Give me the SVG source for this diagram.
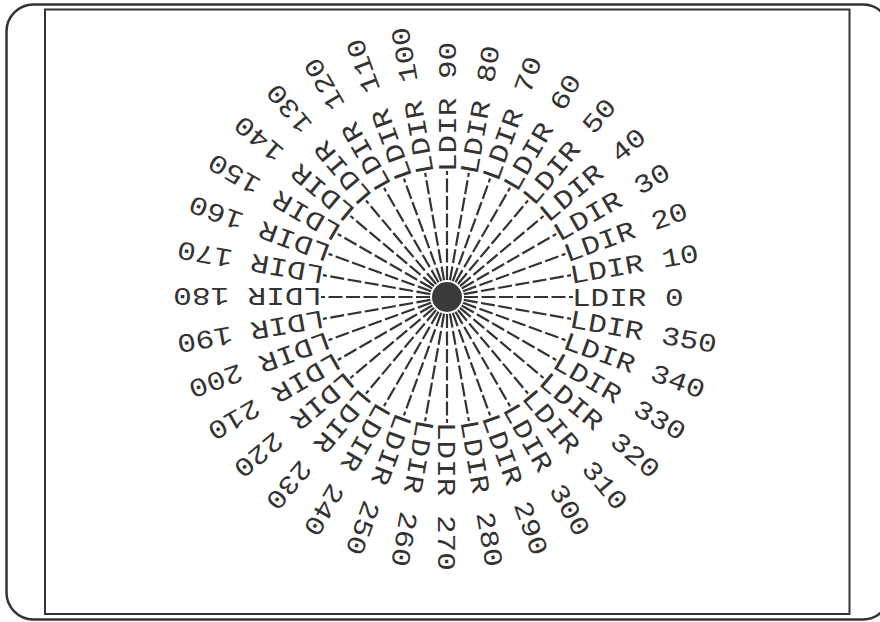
<svg xmlns="http://www.w3.org/2000/svg" width="880" height="622" viewBox="0 0 880 622">
<style>
.frame{fill:none;stroke:#333;}
.ray{stroke:#333;stroke-width:2.2;stroke-dasharray:14 3.5;fill:none;}
.lbl{font-family:"Liberation Mono","DejaVu Sans Mono",monospace;font-size:31px;fill:#333;}
</style>
<rect width="880" height="622" fill="#fff"/>
<g id="frame">
<rect class="frame" x="6.5" y="4.5" width="883.5" height="615" rx="27" stroke-width="2.5"/>
<rect class="frame" x="45" y="9.5" width="804.5" height="604.5" stroke-width="2"/>
</g>
<g id="center"><circle cx="447" cy="297" r="15" fill="#3a3a3a"/></g>
<g id="connectors" transform="translate(447 297)">
<line class="ray" x1="17" y1="0" x2="126" y2="0" transform="rotate(0)"/>
<line class="ray" x1="17" y1="0" x2="126" y2="0" transform="rotate(-10)"/>
<line class="ray" x1="17" y1="0" x2="126" y2="0" transform="rotate(-20)"/>
<line class="ray" x1="17" y1="0" x2="126" y2="0" transform="rotate(-30)"/>
<line class="ray" x1="17" y1="0" x2="126" y2="0" transform="rotate(-40)"/>
<line class="ray" x1="17" y1="0" x2="126" y2="0" transform="rotate(-50)"/>
<line class="ray" x1="17" y1="0" x2="126" y2="0" transform="rotate(-60)"/>
<line class="ray" x1="17" y1="0" x2="126" y2="0" transform="rotate(-70)"/>
<line class="ray" x1="17" y1="0" x2="126" y2="0" transform="rotate(-80)"/>
<line class="ray" x1="17" y1="0" x2="126" y2="0" transform="rotate(-90)"/>
<line class="ray" x1="17" y1="0" x2="126" y2="0" transform="rotate(-100)"/>
<line class="ray" x1="17" y1="0" x2="126" y2="0" transform="rotate(-110)"/>
<line class="ray" x1="17" y1="0" x2="126" y2="0" transform="rotate(-120)"/>
<line class="ray" x1="17" y1="0" x2="126" y2="0" transform="rotate(-130)"/>
<line class="ray" x1="17" y1="0" x2="126" y2="0" transform="rotate(-140)"/>
<line class="ray" x1="17" y1="0" x2="126" y2="0" transform="rotate(-150)"/>
<line class="ray" x1="17" y1="0" x2="126" y2="0" transform="rotate(-160)"/>
<line class="ray" x1="17" y1="0" x2="126" y2="0" transform="rotate(-170)"/>
<line class="ray" x1="17" y1="0" x2="126" y2="0" transform="rotate(-180)"/>
<line class="ray" x1="17" y1="0" x2="126" y2="0" transform="rotate(-190)"/>
<line class="ray" x1="17" y1="0" x2="126" y2="0" transform="rotate(-200)"/>
<line class="ray" x1="17" y1="0" x2="126" y2="0" transform="rotate(-210)"/>
<line class="ray" x1="17" y1="0" x2="126" y2="0" transform="rotate(-220)"/>
<line class="ray" x1="17" y1="0" x2="126" y2="0" transform="rotate(-230)"/>
<line class="ray" x1="17" y1="0" x2="126" y2="0" transform="rotate(-240)"/>
<line class="ray" x1="17" y1="0" x2="126" y2="0" transform="rotate(-250)"/>
<line class="ray" x1="17" y1="0" x2="126" y2="0" transform="rotate(-260)"/>
<line class="ray" x1="17" y1="0" x2="126" y2="0" transform="rotate(-270)"/>
<line class="ray" x1="17" y1="0" x2="126" y2="0" transform="rotate(-280)"/>
<line class="ray" x1="17" y1="0" x2="126" y2="0" transform="rotate(-290)"/>
<line class="ray" x1="17" y1="0" x2="126" y2="0" transform="rotate(-300)"/>
<line class="ray" x1="17" y1="0" x2="126" y2="0" transform="rotate(-310)"/>
<line class="ray" x1="17" y1="0" x2="126" y2="0" transform="rotate(-320)"/>
<line class="ray" x1="17" y1="0" x2="126" y2="0" transform="rotate(-330)"/>
<line class="ray" x1="17" y1="0" x2="126" y2="0" transform="rotate(-340)"/>
<line class="ray" x1="17" y1="0" x2="126" y2="0" transform="rotate(-350)"/>
</g>
<g id="labels" transform="translate(447 297)">
<g id="l0" transform="rotate(0) scale(1 0.85)"><text class="lbl" x="125" y="10.2">LDIR 0</text></g>
<g id="l10" transform="rotate(-10) scale(1 0.85)"><text class="lbl" x="125" y="10.2">LDIR 10</text></g>
<g id="l20" transform="rotate(-20) scale(1 0.85)"><text class="lbl" x="125" y="10.2">LDIR 20</text></g>
<g id="l30" transform="rotate(-30) scale(1 0.85)"><text class="lbl" x="125" y="10.2">LDIR 30</text></g>
<g id="l40" transform="rotate(-40) scale(1 0.85)"><text class="lbl" x="125" y="10.2">LDIR 40</text></g>
<g id="l50" transform="rotate(-50) scale(1 0.85)"><text class="lbl" x="125" y="10.2">LDIR 50</text></g>
<g id="l60" transform="rotate(-60) scale(1 0.85)"><text class="lbl" x="125" y="10.2">LDIR 60</text></g>
<g id="l70" transform="rotate(-70) scale(1 0.85)"><text class="lbl" x="125" y="10.2">LDIR 70</text></g>
<g id="l80" transform="rotate(-80) scale(1 0.85)"><text class="lbl" x="125" y="10.2">LDIR 80</text></g>
<g id="l90" transform="rotate(-90) scale(1 0.85)"><text class="lbl" x="125" y="10.2">LDIR 90</text></g>
<g id="l100" transform="rotate(-100) scale(1 0.85)"><text class="lbl" x="125" y="10.2">LDIR 100</text></g>
<g id="l110" transform="rotate(-110) scale(1 0.85)"><text class="lbl" x="125" y="10.2">LDIR 110</text></g>
<g id="l120" transform="rotate(-120) scale(1 0.85)"><text class="lbl" x="125" y="10.2">LDIR 120</text></g>
<g id="l130" transform="rotate(-130) scale(1 0.85)"><text class="lbl" x="125" y="10.2">LDIR 130</text></g>
<g id="l140" transform="rotate(-140) scale(1 0.85)"><text class="lbl" x="125" y="10.2">LDIR 140</text></g>
<g id="l150" transform="rotate(-150) scale(1 0.85)"><text class="lbl" x="125" y="10.2">LDIR 150</text></g>
<g id="l160" transform="rotate(-160) scale(1 0.85)"><text class="lbl" x="125" y="10.2">LDIR 160</text></g>
<g id="l170" transform="rotate(-170) scale(1 0.85)"><text class="lbl" x="125" y="10.2">LDIR 170</text></g>
<g id="l180" transform="rotate(-180) scale(1 0.85)"><text class="lbl" x="125" y="10.2">LDIR 180</text></g>
<g id="l190" transform="rotate(-190) scale(1 0.85)"><text class="lbl" x="125" y="10.2">LDIR 190</text></g>
<g id="l200" transform="rotate(-200) scale(1 0.85)"><text class="lbl" x="125" y="10.2">LDIR 200</text></g>
<g id="l210" transform="rotate(-210) scale(1 0.85)"><text class="lbl" x="125" y="10.2">LDIR 210</text></g>
<g id="l220" transform="rotate(-220) scale(1 0.85)"><text class="lbl" x="125" y="10.2">LDIR 220</text></g>
<g id="l230" transform="rotate(-230) scale(1 0.85)"><text class="lbl" x="125" y="10.2">LDIR 230</text></g>
<g id="l240" transform="rotate(-240) scale(1 0.85)"><text class="lbl" x="125" y="10.2">LDIR 240</text></g>
<g id="l250" transform="rotate(-250) scale(1 0.85)"><text class="lbl" x="125" y="10.2">LDIR 250</text></g>
<g id="l260" transform="rotate(-260) scale(1 0.85)"><text class="lbl" x="125" y="10.2">LDIR 260</text></g>
<g id="l270" transform="rotate(-270) scale(1 0.85)"><text class="lbl" x="125" y="10.2">LDIR 270</text></g>
<g id="l280" transform="rotate(-280) scale(1 0.85)"><text class="lbl" x="125" y="10.2">LDIR 280</text></g>
<g id="l290" transform="rotate(-290) scale(1 0.85)"><text class="lbl" x="125" y="10.2">LDIR 290</text></g>
<g id="l300" transform="rotate(-300) scale(1 0.85)"><text class="lbl" x="125" y="10.2">LDIR 300</text></g>
<g id="l310" transform="rotate(-310) scale(1 0.85)"><text class="lbl" x="125" y="10.2">LDIR 310</text></g>
<g id="l320" transform="rotate(-320) scale(1 0.85)"><text class="lbl" x="125" y="10.2">LDIR 320</text></g>
<g id="l330" transform="rotate(-330) scale(1 0.85)"><text class="lbl" x="125" y="10.2">LDIR 330</text></g>
<g id="l340" transform="rotate(-340) scale(1 0.85)"><text class="lbl" x="125" y="10.2">LDIR 340</text></g>
<g id="l350" transform="rotate(-350) scale(1 0.85)"><text class="lbl" x="125" y="10.2">LDIR 350</text></g>
</g>
</svg>
